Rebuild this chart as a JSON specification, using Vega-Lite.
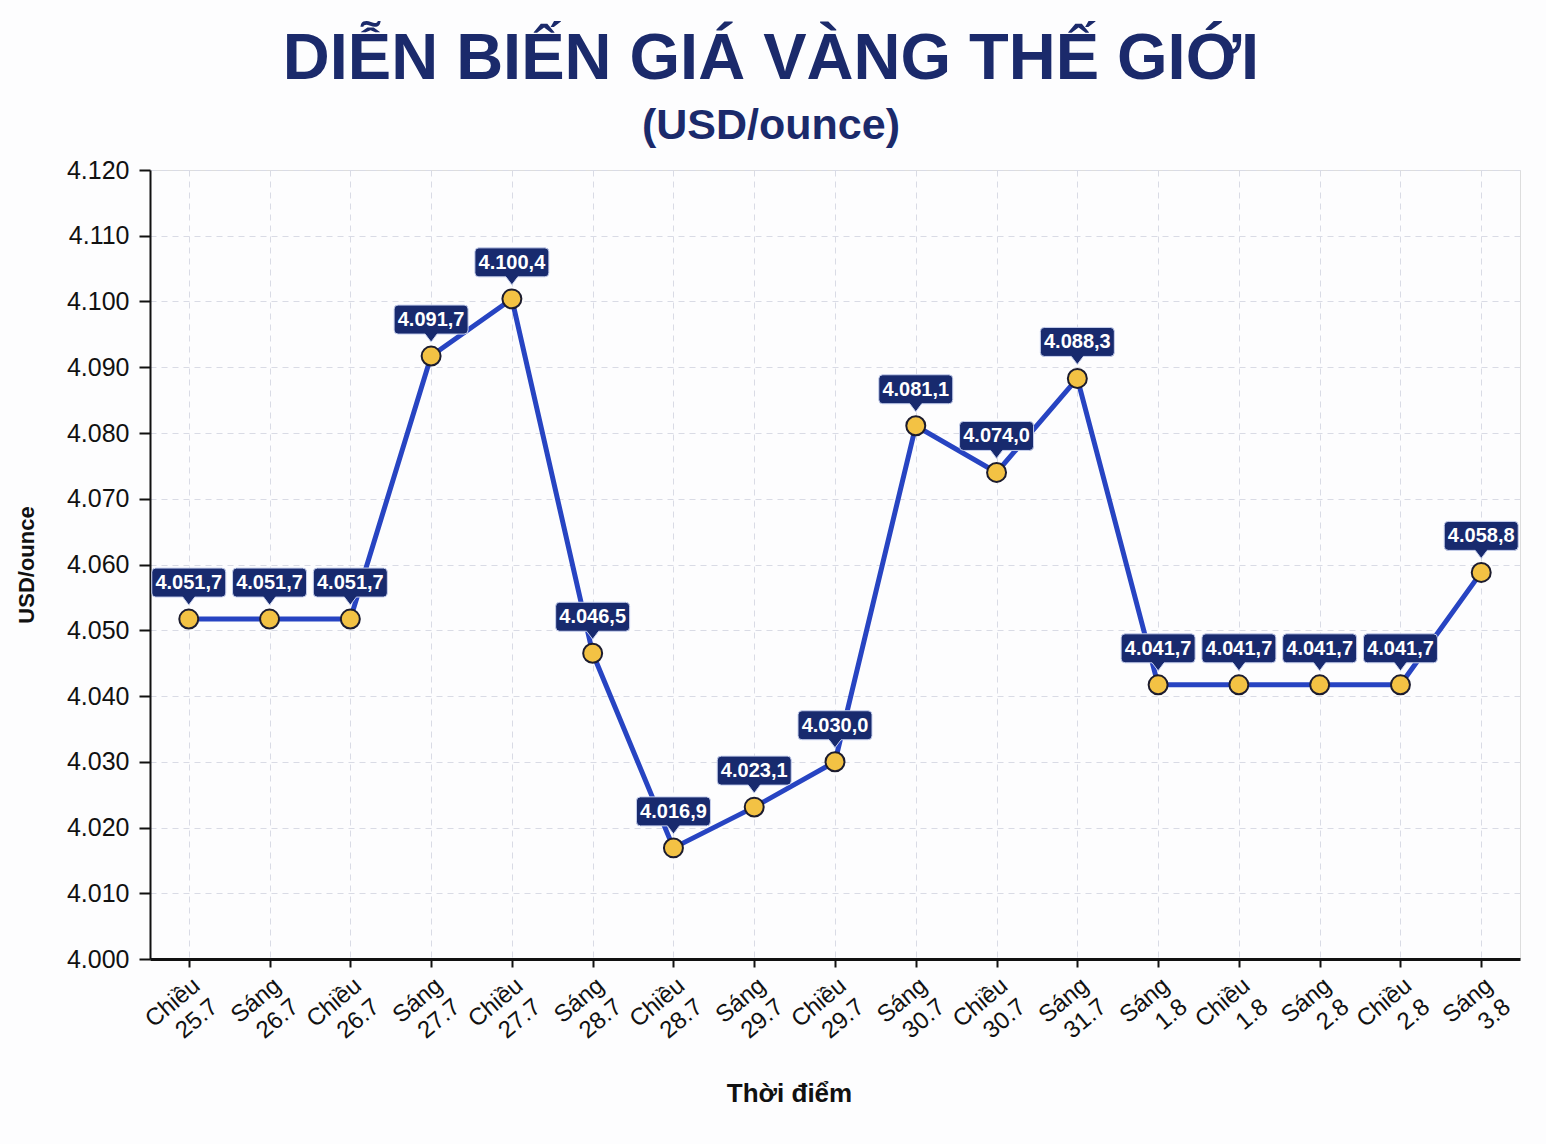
{
  "$schema": "https://vega.github.io/schema/vega-lite/v6.json",
  "width": 1370,
  "height": 789,
  "autosize": {"type": "none"},
  "padding": {"left": 150, "top": 170, "right": 26, "bottom": 185},
  "background": "#fdfdfe",
  "title": {
    "text": "DIỄN BIẾN GIÁ VÀNG THẾ GIỚI",
    "subtitle": "(USD/ounce)",
    "anchor": "middle",
    "dx": -64,
    "offset": 9,
    "font": "Liberation Sans",
    "fontSize": 65,
    "fontWeight": 900,
    "color": "#1b2a6b",
    "subtitleFont": "Liberation Sans",
    "subtitleFontSize": 43,
    "subtitleFontWeight": "bold",
    "subtitleColor": "#1b2a6b",
    "subtitlePadding": 12
  },
  "data": {
    "values": [
      {"time": "Chiều 25.7", "price": 4051.7},
      {"time": "Sáng 26.7", "price": 4051.7},
      {"time": "Chiều 26.7", "price": 4051.7},
      {"time": "Sáng 27.7", "price": 4091.7},
      {"time": "Chiều 27.7", "price": 4100.4},
      {"time": "Sáng 28.7", "price": 4046.5},
      {"time": "Chiều 28.7", "price": 4016.9},
      {"time": "Sáng 29.7", "price": 4023.1},
      {"time": "Chiều 29.7", "price": 4030.0},
      {"time": "Sáng 30.7", "price": 4081.1},
      {"time": "Chiều 30.7", "price": 4074.0},
      {"time": "Sáng 31.7", "price": 4088.3},
      {"time": "Sáng 1.8", "price": 4041.7},
      {"time": "Chiều 1.8", "price": 4041.7},
      {"time": "Sáng 2.8", "price": 4041.7},
      {"time": "Chiều 2.8", "price": 4041.7},
      {"time": "Sáng 3.8", "price": 4058.8}
    ]
  },
  "transform": [
    {"calculate": "replace(replace(replace(format(datum.price, ',.1f'), ',', '#'), '.', ','), '#', '.')", "as": "label"}
  ],
  "encoding": {
    "x": {
      "field": "time",
      "type": "ordinal",
      "sort": null,
      "scale": {"type": "point", "padding": 0.48},
      "axis": {
        "title": "Thời điểm",
        "titleFont": "Liberation Sans",
        "titleFontSize": 26,
        "titleFontWeight": "bold",
        "titleColor": "#111111",
        "titleX": 639,
        "titleY": 121,
        "labelExpr": "split(datum.label, ' ')",
        "labelAngle": -40,
        "labelAlign": "right",
        "labelBaseline": "top",
        "labelFont": "Liberation Sans",
        "labelFontSize": 24,
        "labelColor": "#111111",
        "labelLineHeight": 28,
        "labelPadding": 6,
        "labelOverlap": false,
        "domainColor": "#111111",
        "domainWidth": 3,
        "tickColor": "#111111",
        "tickSize": 8,
        "tickWidth": 2,
        "grid": true,
        "gridColor": "#d9dbe5",
        "gridDash": [6, 5],
        "gridWidth": 1
      }
    },
    "y": {
      "field": "price",
      "type": "quantitative",
      "scale": {"domain": [4000, 4120], "nice": false, "zero": false},
      "axis": {
        "title": "USD/ounce",
        "titleFont": "Liberation Sans",
        "titleFontSize": 22,
        "titleFontWeight": "bold",
        "titleColor": "#111111",
        "titlePadding": 28,
        "values": [4000, 4010, 4020, 4030, 4040, 4050, 4060, 4070, 4080, 4090, 4100, 4110, 4120],
        "labelExpr": "replace(format(datum.value, ',d'), ',', '.')",
        "labelFont": "Liberation Sans",
        "labelFontSize": 25,
        "labelColor": "#111111",
        "labelPadding": 10,
        "domainColor": "#111111",
        "domainWidth": 2,
        "tickColor": "#111111",
        "tickSize": 11,
        "tickWidth": 2,
        "grid": true,
        "gridColor": "#d9dbe5",
        "gridDash": [6, 5],
        "gridWidth": 1
      }
    }
  },
  "layer": [
    {
      "mark": {"type": "line", "color": "#2744c2", "strokeWidth": 5}
    },
    {
      "mark": {
        "type": "point",
        "shape": "circle",
        "filled": true,
        "size": 360,
        "fill": "#f3c244",
        "stroke": "#1c1c2e",
        "strokeWidth": 2,
        "opacity": 1
      }
    },
    {
      "mark": {
        "type": "point",
        "shape": "M-33,-51 H33 Q37,-51 37,-47 V-26 Q37,-22 33,-22 H6 L0,-14 L-6,-22 H-33 Q-37,-22 -37,-26 V-47 Q-37,-51 -33,-51 Z",
        "size": 4,
        "filled": true,
        "fill": "#182a6e",
        "stroke": "#c9d2ef",
        "strokeWidth": 1,
        "opacity": 1
      }
    },
    {
      "mark": {
        "type": "text",
        "dy": -36,
        "font": "Liberation Sans",
        "fontSize": 20,
        "fontWeight": "bold",
        "color": "#ffffff",
        "baseline": "middle",
        "align": "center"
      },
      "encoding": {"text": {"field": "label"}}
    }
  ]
}
